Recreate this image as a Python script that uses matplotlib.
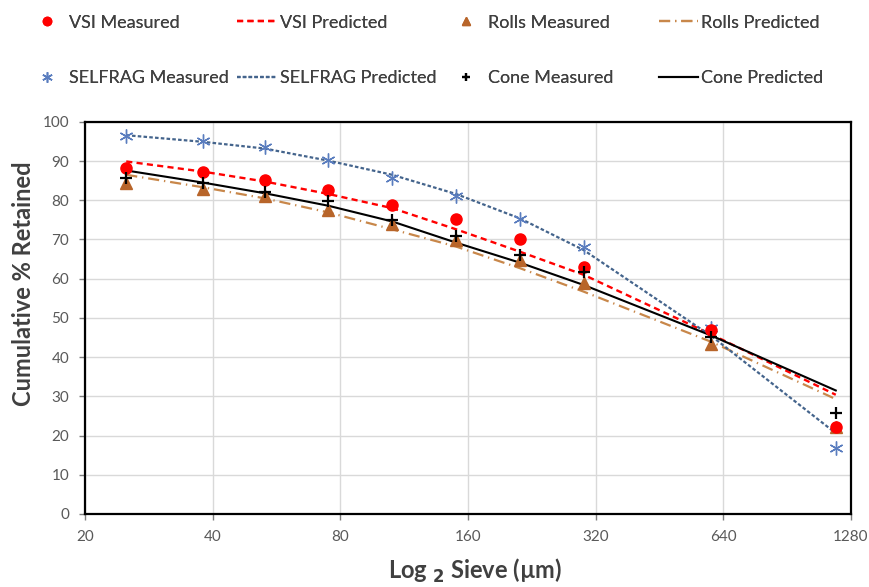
import numpy as np
import matplotlib
matplotlib.use("Agg")
import matplotlib.pyplot as plt

plt.rcParams['font.family'] = ['Lato', 'DejaVu Sans']

# sieve sizes (um)
sieve = [25, 38, 53, 75, 106, 150, 212, 300, 600, 1180]

vsi_meas = [88.2, 87.2, 85.2, 82.6, 78.8, 75.2, 70.1, 63.1, 46.8, 22.3]
vsi_pred = [89.9, 87.3, 84.8, 81.6, 78.0, 72.6, 66.9, 61.0, 45.8, 30.4]
rolls_meas = [84.5, 83.0, 81.0, 77.6, 73.9, 69.9, 64.8, 59.0, 43.4, 22.1]
rolls_pred = [86.5, 83.3, 80.5, 76.9, 72.6, 68.2, 62.7, 56.7, 43.9, 29.3]
self_meas = [96.3, 95.2, 93.5, 90.2, 85.6, 81.2, 75.3, 68.0, 47.4, 16.9]
self_pred = [96.6, 94.9, 93.2, 90.1, 86.5, 81.6, 75.4, 67.3, 45.4, 20.6]
cone_meas = [85.8, 84.5, 82.1, 79.8, 75.0, 70.9, 66.1, 61.6, 45.2, 25.8]
cone_pred = [87.6, 84.5, 81.8, 78.6, 74.6, 69.2, 64.1, 58.4, 45.5, 31.5]

xticks = [20, 40, 80, 160, 320, 640, 1280]

fig = plt.figure(figsize=(8.69, 5.87), dpi=100)
ax = fig.add_axes([0.098, 0.1244, 0.881, 0.668])

red = '#ff0000'
brown = '#b8652a'
orange = '#c8874a'
blue = '#5a7dbf'
dblue = '#44648c'
txt = '#404040'

# predicted lines
l_vsi, = ax.plot(sieve, vsi_pred, color=red, ls=(0, (2.6, 1.8)), lw=1.7, zorder=3)
l_rolls, = ax.plot(sieve, rolls_pred, color=orange, ls=(0, (5, 2.2, 0.6, 2.2)), lw=1.6, zorder=3)
l_self, = ax.plot(sieve, self_pred, color=dblue, ls=(0, (1.6, 1.0)), lw=1.6, zorder=3)
l_cone, = ax.plot(sieve, cone_pred, color='black', ls='-', lw=1.5, zorder=3)

# measured points
m_vsi, = ax.plot(sieve, vsi_meas, ls='none', color=red, marker='o', ms=8, zorder=5)
m_rolls, = ax.plot(sieve, rolls_meas, ls='none', color=brown, marker='^', ms=8, zorder=4)
m_self, = ax.plot(sieve, self_meas, ls='none', color=blue, marker=(6, 2, 0), ms=10, mew=1, zorder=4)
m_cone, = ax.plot(sieve, cone_meas, ls='none', color='black', marker='+', ms=8, mew=1.6, zorder=6)

ax.set_xscale('log', base=2)
ax.set_xlim(20, 1280)
ax.set_ylim(0, 100)
ax.set_xticks(xticks)
ax.set_xticklabels([str(t) for t in xticks])
ax.minorticks_off()
ax.set_yticks(np.arange(0, 101, 10))
ax.grid(True, color='#d9d9d9', lw=1)
ax.set_axisbelow(True)
for sp in ax.spines.values():
    sp.set_linewidth(1.6)
    sp.set_color('black')
ax.tick_params(axis='both', labelcolor='#595959', color='#7f7f7f', labelsize=11,
               length=4.5, width=1, direction='out', pad=7)

ax.set_ylabel('Cumulative % Retained', fontsize=17, fontweight='bold', color=txt)
ax.yaxis.set_label_coords(-0.066, 0.587)
ax.set_xlabel(r'Log $_{\mathbf{2}}$ Sieve (µm)', fontsize=17, fontweight='bold', color=txt)
ax.xaxis.set_label_coords(0.509, -0.11)

# legend: four columns with equal spacing, like the Excel one
cols = [
    ([m_vsi, m_self], ['VSI Measured', 'SELFRAG Measured'], 0.031),
    ([l_vsi, l_self], ['VSI Predicted', 'SELFRAG Predicted'], 0.273),
    ([m_rolls, m_cone], ['Rolls Measured', 'Cone Measured'], 0.513),
    ([l_rolls, l_cone], ['Rolls Predicted', 'Cone Predicted'], 0.758),
]
for hs, ls_, x0 in cols:
    leg = fig.legend(hs, ls_, loc='upper left', bbox_to_anchor=(x0, 0.975), ncol=1,
                     frameon=False, fontsize=13, labelspacing=2.2, borderpad=0,
                     borderaxespad=0, handlelength=2.2, handletextpad=0.15,
                     labelcolor=txt, markerscale=0.75)
    fig.add_artist(leg)

fig.savefig('out.png', dpi=100)
